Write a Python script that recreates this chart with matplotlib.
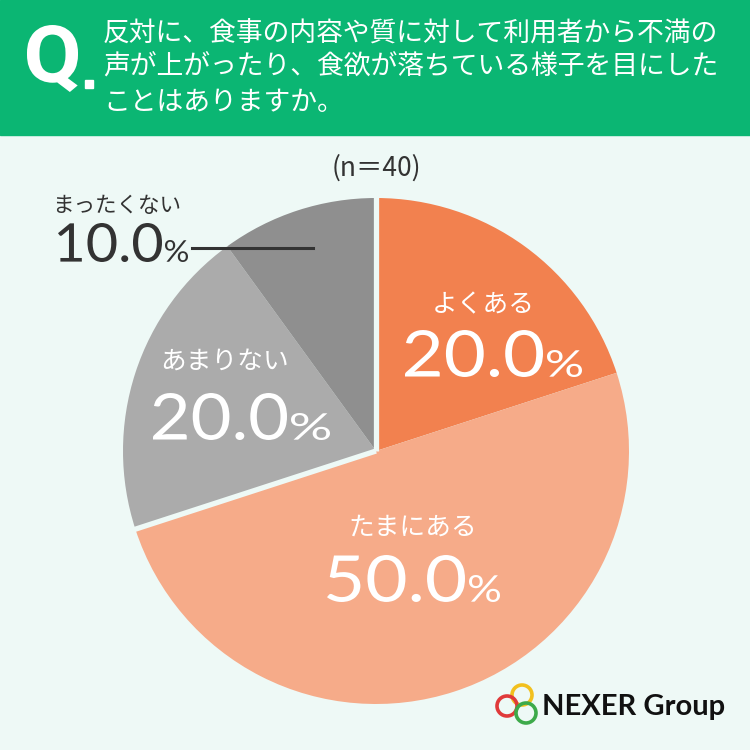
import matplotlib.pyplot as plt
from matplotlib.patches import Rectangle, Circle, PathPatch
from matplotlib.textpath import TextPath
from matplotlib.font_manager import FontProperties
from matplotlib.transforms import Affine2D
import numpy as np

plt.rcParams['font.family'] = ['Noto Sans CJK JP', 'DejaVu Sans']

# data
labels = ['よくある', 'たまにある', 'あまりない', 'まったくない']
values = [20.0, 50.0, 20.0, 10.0]
colors = ['#F2814F', '#F6AB89', '#ABABAB', '#8F8F8F']
question = ['反対に、食事の内容や質に対して利用者から不満の',
            '声が上がったり、食欲が落ちている様子を目にした',
            'ことはありますか。']
n_text = '(n＝40)'

BG = '#EEF9F6'
fig = plt.figure(figsize=(7.5, 7.5), dpi=100)
fig.patch.set_facecolor(BG)
ax = fig.add_axes([0, 0, 1, 1])


def path_text(s, x0, base, w, h, color, family='Lato', weight='normal'):
    # draw text as a path stretched into the box (x0 .. x0+w, cap height h)
    fp = FontProperties(family=family, weight=weight)
    tp = TextPath((0, 0), s, size=100, prop=fp)
    ext = tp.get_extents()
    sx = w / ext.width
    sy = h / ext.height
    tr = Affine2D().translate(-ext.x0, -ext.y0).scale(sx, sy).translate(x0, base)
    ax.add_patch(PathPatch(tr.transform_path(tp), color=color, lw=0, zorder=7))


# pie
center = (376, 299)
radius = 253
ax.pie(values, colors=colors, startangle=90, counterclock=False,
       center=center, radius=radius, wedgeprops=dict(linewidth=0))
# gaps between the orange group and the grey group
split = 90 - 360 * (values[0] + values[1]) / 100
for ang in [90, split]:
    a = np.deg2rad(ang)
    ax.plot([center[0], center[0] + (radius + 3) * np.cos(a)],
            [center[1], center[1] + (radius + 3) * np.sin(a)],
            color=BG, lw=3.8, solid_capstyle='butt', zorder=3)

ax.set_xlim(0, 750)
ax.set_ylim(0, 750)
ax.set_aspect('equal')
ax.axis('off')

# header
ax.add_patch(Rectangle((0, 615), 750, 135, color='#0BB673', zorder=1))
path_text('Q', 27, 658, 51, 67, 'white', family='Roboto', weight='bold')
ax.add_patch(Rectangle((85, 662), 8, 8, color='white', zorder=7))
for i, line in enumerate(question):
    ax.text(103, 717 - i * 34.5, line, color='white', fontsize=19.3,
            ha='left', va='center', zorder=7)

ax.text(376, 582, n_text, color='#333333', fontsize=19, ha='center', va='center')

# labels inside the pie: (index, label x, label y, number left, baseline, number right, % right)
inside = [
    (0, 483, 445, 405, 373, 543, 582),
    (1, 413, 222, 327, 148, 465, 500),
    (2, 225, 388, 153, 310, 287, 330),
]
for idx, lx, ly, nx0, base, nx1, px1 in inside:
    ax.text(lx, ly, labels[idx], color='white', fontsize=18.5, ha='center',
            va='center', zorder=7)
    path_text(f'{values[idx]:.1f}', nx0, base, nx1 - nx0, 47, 'white')
    path_text('%', nx1 + 4, base, px1 - nx1 - 4, 27, 'white')

# outside label
ax.text(117, 544, labels[3], color='#333333', fontsize=15.5, ha='center', va='center')
path_text(f'{values[3]:.1f}', 58, 488, 104, 39, '#333333')
path_text('%', 165, 488, 23, 22, '#333333')
ax.plot([192, 313], [502, 502], color='#333333', lw=2.2, zorder=5)

# logo
for (cx, cy, col) in [(522, 55, '#F2C01E'), (507, 44, '#E03A3A'), (526, 37, '#3DAA4A')]:
    ax.add_patch(Circle((cx, cy), 10, fill=False, edgecolor=col, lw=2.6, zorder=6))
ax.text(542, 43, 'NEXER Group', color='#111111', fontsize=21, fontweight='bold',
        ha='left', va='center', family=['Lato', 'DejaVu Sans'])

fig.savefig('out.png', dpi=100, facecolor=fig.get_facecolor())
